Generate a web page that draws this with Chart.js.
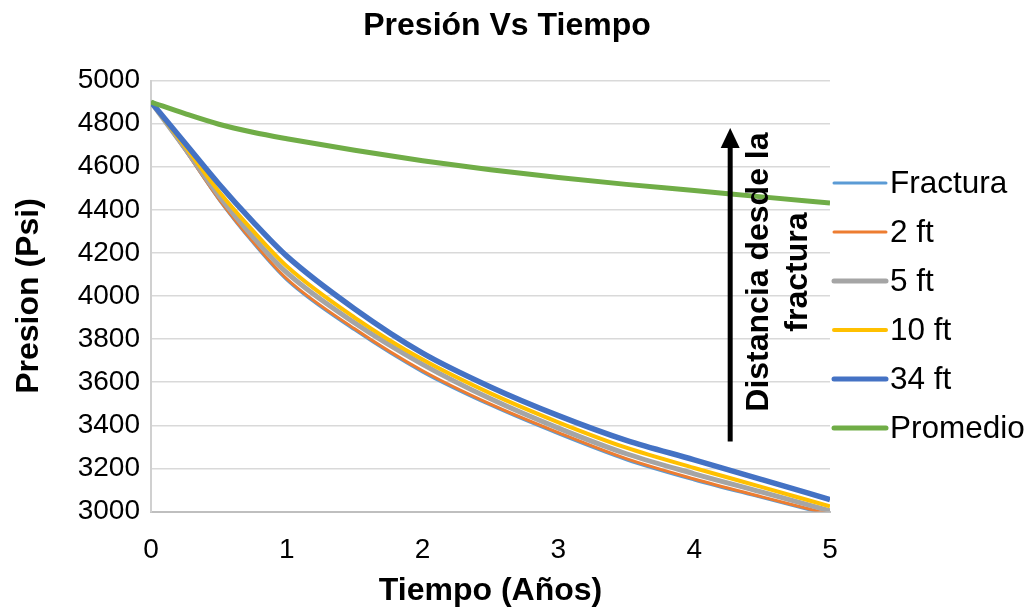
<!DOCTYPE html>
<html>
<head>
<meta charset="utf-8">
<script src="https://cdn.jsdelivr.net/npm/chart.js@4.4.0/dist/chart.umd.min.js"></script>
<style>
    html, body { margin: 0; padding: 0; background: #ffffff; }
    #wrap { width: 1036px; height: 613px; }
</style>
</head>
<body>
<div id="wrap"><canvas id="chartPresion"></canvas></div>
<script>
// tiempo en años y presión (psi) por distancia a la fractura
const tiempo    = [0, 0.25, 0.5, 0.75, 1, 1.5, 2, 2.5, 3, 3.5, 4, 4.5, 5];
const fractura  = [4900, 4675, 4444, 4245, 4072, 3840, 3645, 3491, 3358, 3238, 3144, 3062, 2981];
const ft2       = [4900, 4678, 4450, 4253, 4080, 3848, 3653, 3498, 3366, 3245, 3151, 3068, 2987];
const ft5       = [4900, 4685, 4465, 4275, 4108, 3875, 3683, 3523, 3387, 3268, 3175, 3090, 3003];
const ft10      = [4900, 4695, 4485, 4303, 4138, 3900, 3705, 3548, 3414, 3296, 3202, 3113, 3024];
const ft34      = [4900, 4710, 4520, 4345, 4185, 3940, 3735, 3578, 3445, 3330, 3240, 3148, 3055];
const promedio  = [4900, 4846, 4797, 4760, 4730, 4676, 4628, 4586, 4550, 4518, 4490, 4460, 4432];

const nombres   = ["Fractura", "2 ft", "5 ft", "10 ft", "34 ft", "Promedio"];
const colores   = ["#5B9BD5", "#ED7D31", "#A5A5A5", "#FFC000", "#4472C4", "#70AD47"];
const grosores  = [2, 3, 5, 4, 5.5, 5];
const series    = [fractura, ft2, ft5, ft10, ft34, promedio];

const titulo    = "Presión Vs Tiempo";
const tituloX   = "Tiempo (Años)";
const tituloY   = "Presion (Psi)";
const flecha    = { x: 4.265, desde: 3325, hasta: 4780 };
const nota      = ["Distancia desde la", "fractura"];

const FONT = '"Liberation Sans", Arial, sans-serif';

function toPoints(values) {
    return tiempo.map((t, i) => ({ x: t, y: values[i] }));
}

const datasets = series.map((values, i) => ({
    label: nombres[i],
    data: toPoints(values),
    borderColor: colores[i],
    backgroundColor: colores[i],
    borderWidth: grosores[i],
    pointRadius: 0,
    cubicInterpolationMode: 'monotone',
    // later series paint over earlier ones
    order: series.length - i
}));

// title, legend and the arrow note
const extras = {
    id: 'extras',
    afterDraw(chart) {
        const ctx = chart.ctx;
        const area = chart.chartArea;
        const xs = chart.scales.x;
        const ys = chart.scales.y;
        ctx.save();
        ctx.fillStyle = '#000';

        ctx.font = 'bold 32px ' + FONT;
        ctx.textAlign = 'center';
        ctx.textBaseline = 'middle';
        ctx.fillText(titulo, chart.width / 2 - 11, 26);

        // legend
        const top = 183, step = 49;
        ctx.font = '31.5px ' + FONT;
        ctx.textAlign = 'left';
        nombres.forEach((name, i) => {
            const y = top + i * step;
            ctx.strokeStyle = colores[i];
            ctx.lineWidth = Math.max(3, Math.min(grosores[i], 5));
            ctx.lineCap = 'round';
            ctx.beginPath();
            ctx.moveTo(area.right + 4, y);
            ctx.lineTo(area.right + 56, y);
            ctx.stroke();
            ctx.fillStyle = '#000';
            ctx.fillText(name, area.right + 60, y + 1);
        });

        // arrow
        const ax = xs.getPixelForValue(flecha.x);
        const y0 = ys.getPixelForValue(flecha.desde);
        const y1 = ys.getPixelForValue(flecha.hasta);
        ctx.strokeStyle = '#000';
        ctx.lineWidth = 5;
        ctx.lineCap = 'butt';
        ctx.beginPath();
        ctx.moveTo(ax, y0);
        ctx.lineTo(ax, y1 + 18);
        ctx.stroke();
        ctx.beginPath();
        ctx.moveTo(ax, y1);
        ctx.lineTo(ax - 9.5, y1 + 20);
        ctx.lineTo(ax + 9.5, y1 + 20);
        ctx.closePath();
        ctx.fill();

        // rotated note next to the arrow
        ctx.translate(ax + 48, ys.getPixelForValue(4111));
        ctx.rotate(-Math.PI / 2);
        ctx.font = 'bold 32px ' + FONT;
        ctx.textAlign = 'center';
        ctx.textBaseline = 'middle';
        ctx.fillText(nota[0], 0, -19);
        ctx.fillText(nota[1], 0, 20);
        ctx.restore();
    }
};

const config = {
    type: 'line',
    data: { datasets: datasets },
    options: {
        responsive: true,
        maintainAspectRatio: false,
        animation: false,
        devicePixelRatio: 1,
        layout: { padding: { top: 80.5, right: 206, bottom: 0, left: 0 } },
        plugins: {
            legend: { display: false },
            title: { display: false },
            tooltip: { enabled: false }
        },
        scales: {
            x: {
                type: 'linear',
                min: 0,
                max: 5,
                afterFit: (scale) => { scale.height = 101.5; },
                ticks: {
                    stepSize: 1,
                    color: '#000',
                    padding: 22,
                    font: { family: FONT, size: 28 }
                },
                grid: { display: false, drawTicks: false },
                border: { display: true, color: '#bfbfbf', width: 2 },
                title: {
                    display: true,
                    text: tituloX,
                    color: '#000',
                    padding: { top: 0, bottom: 3 },
                    font: { family: FONT, size: 32, weight: 'bold' }
                }
            },
            y: {
                min: 3000,
                max: 5000,
                afterFit: (scale) => { scale.width = 151; },
                ticks: {
                    stepSize: 200,
                    color: '#000',
                    padding: 11,
                    font: { family: FONT, size: 28 },
                    callback: (value) => String(value)
                },
                grid: { color: '#d9d9d9', lineWidth: 1.5, drawTicks: false },
                border: { display: true, color: '#d0d0d0', width: 2 },
                title: {
                    display: true,
                    text: tituloY,
                    color: '#000',
                    padding: { top: 10, bottom: 0 },
                    font: { family: FONT, size: 32, weight: 'bold' }
                }
            }
        }
    },
    plugins: [extras]
};

const chartPresion = new Chart(document.getElementById('chartPresion'), config);
</script>
</body>
</html>
